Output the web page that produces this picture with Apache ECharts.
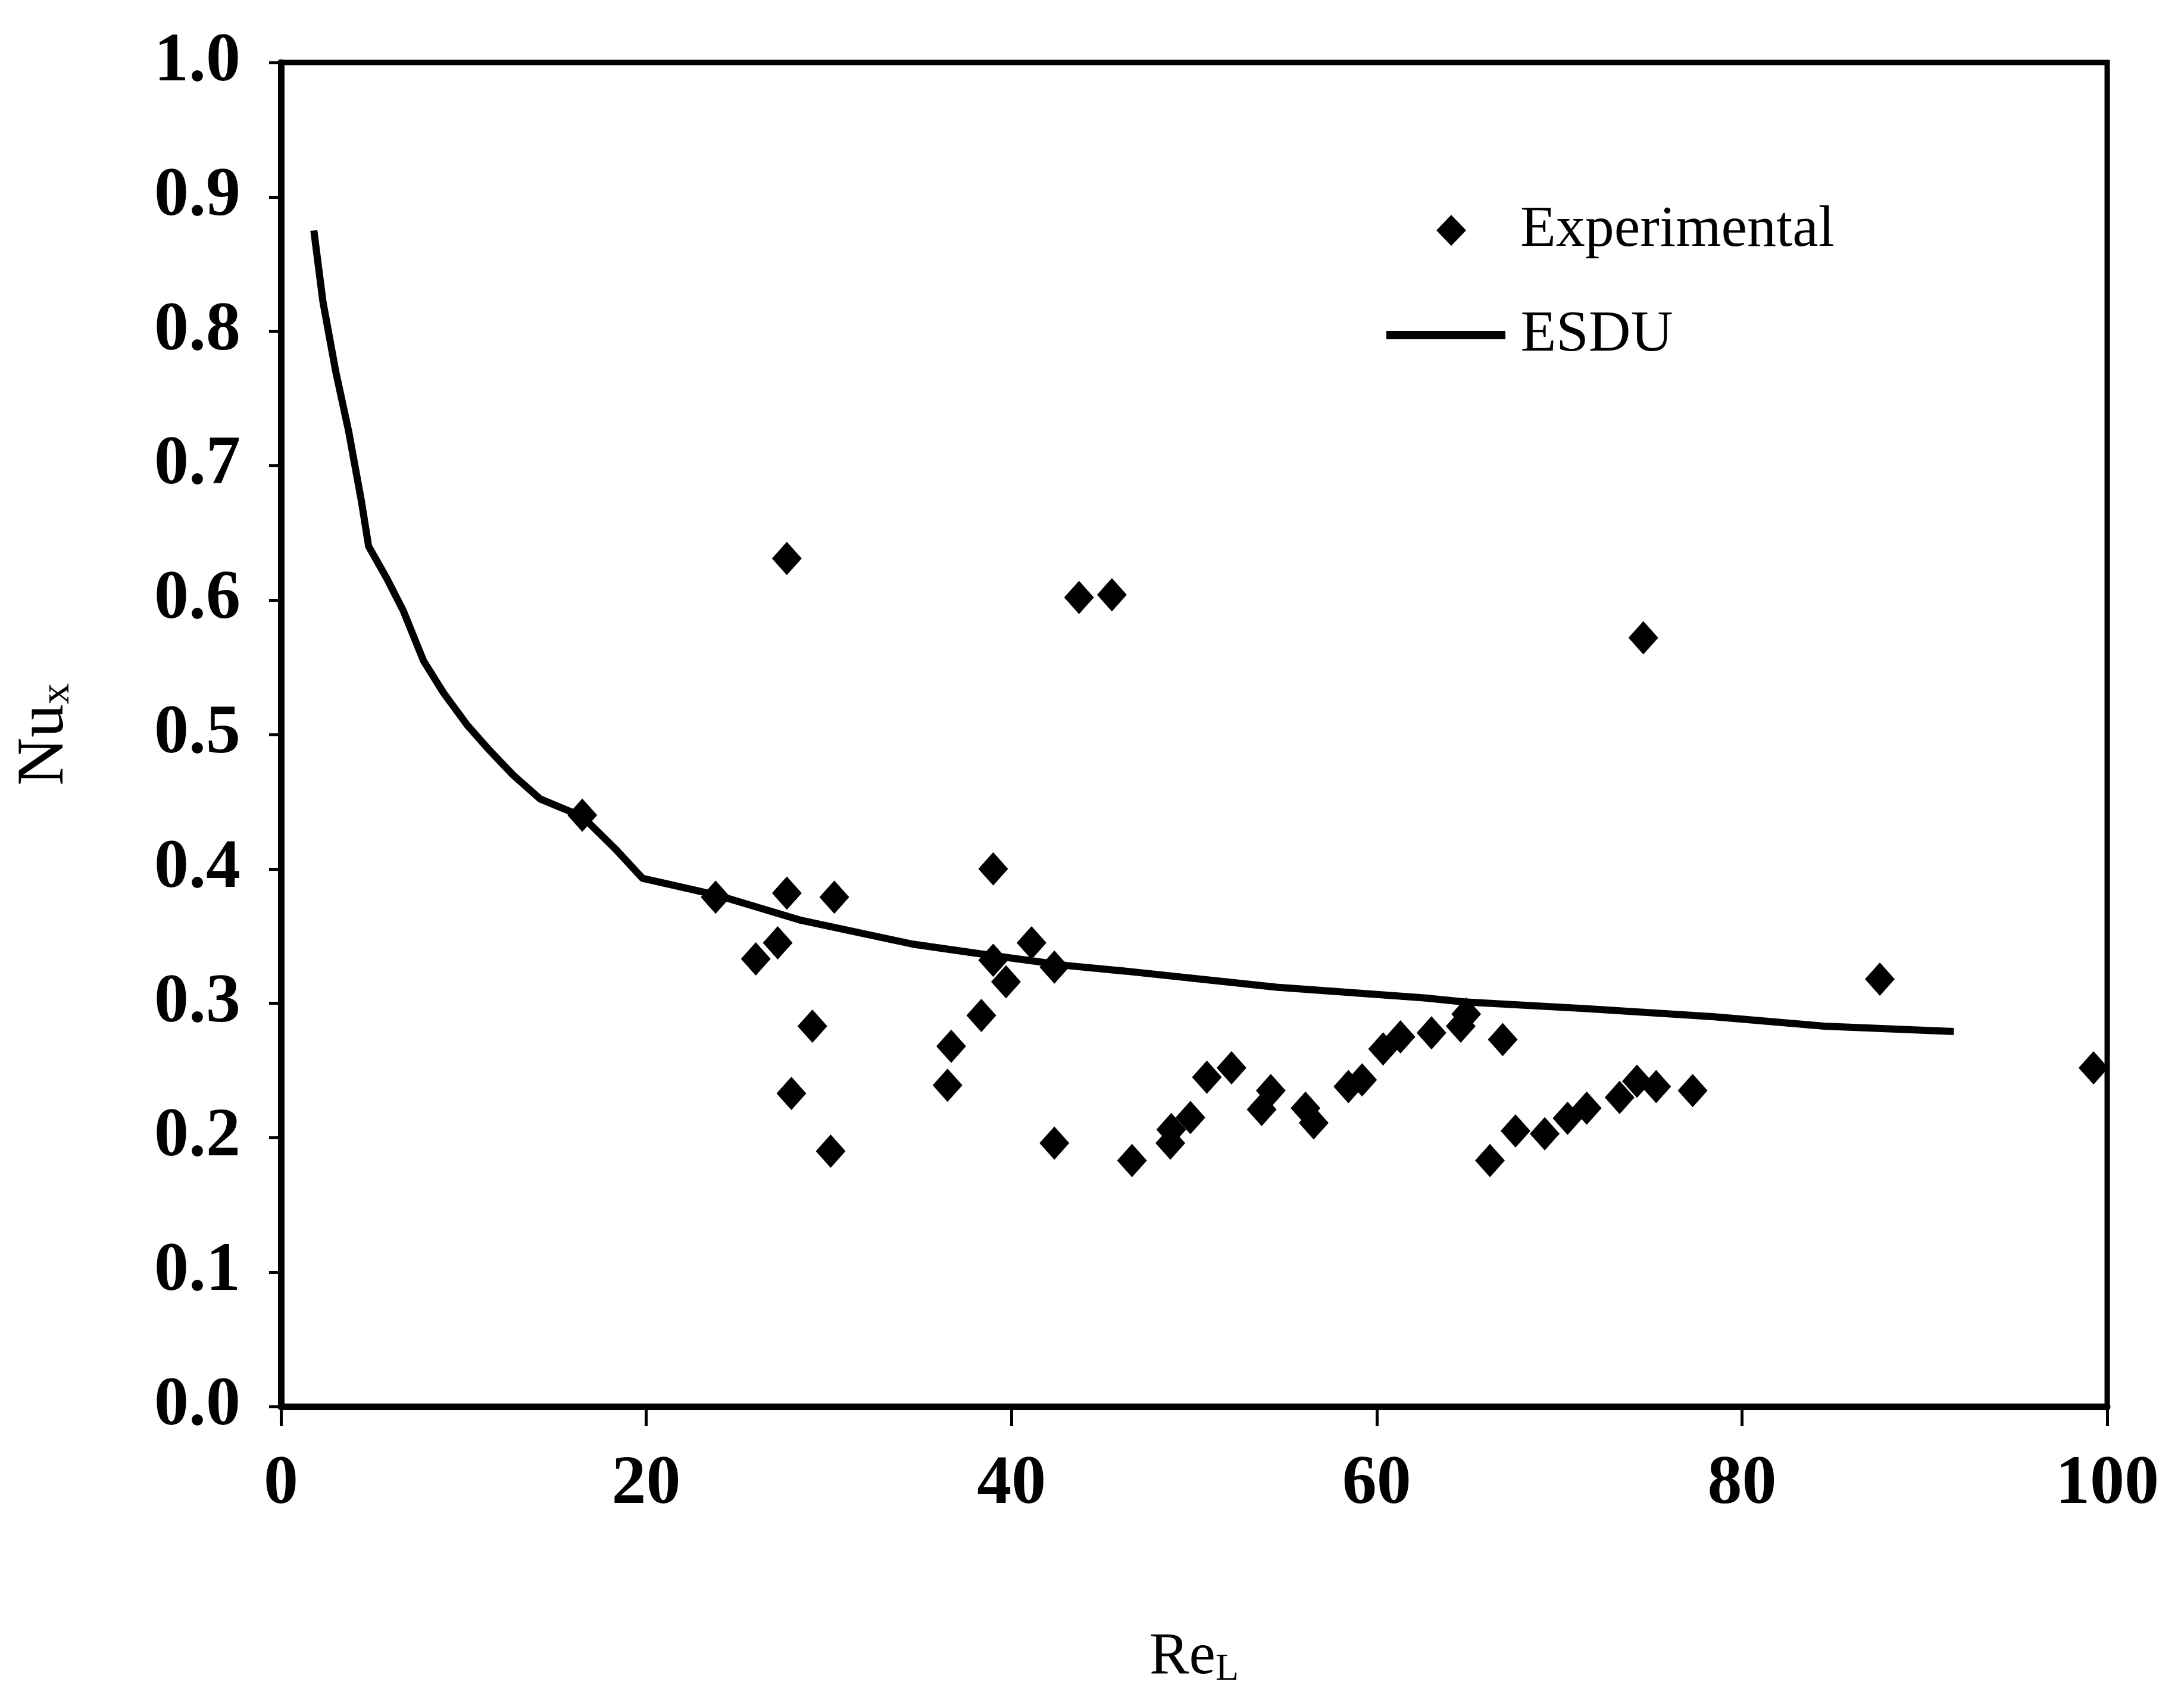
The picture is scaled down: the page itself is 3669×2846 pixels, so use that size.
<!DOCTYPE html>
<html><head><meta charset="utf-8">
<script src="https://cdn.jsdelivr.net/npm/echarts@6/dist/echarts.min.js"></script>
<style>html,body{margin:0;padding:0;background:#fff}#c{width:3669px;height:2846px}</style>
</head><body><div id="c"></div>
<script>
// Experimental data (Re_L, Nu_x)
const expX = [16.5, 23.8, 26.0, 27.2, 27.7, 27.7, 27.95, 29.1, 30.1, 30.3,
  36.5, 36.7, 38.35, 39.0, 39.0, 39.7, 41.1, 42.35, 42.35, 43.7,
  45.5, 46.6, 48.7, 48.75, 49.8, 50.7, 52.05, 53.7, 54.2, 56.1,
  56.55, 58.45, 59.2, 60.35, 61.3, 63.0, 64.6, 64.9, 66.9, 66.2,
  67.6, 69.2, 70.45, 71.5, 73.3, 74.25, 75.3, 77.3, 74.6, 87.55, 99.25];
const expY = [0.440, 0.379, 0.333, 0.345, 0.382, 0.631, 0.233, 0.283, 0.190, 0.379,
  0.239, 0.268, 0.291, 0.400, 0.332, 0.316, 0.345, 0.327, 0.196, 0.602,
  0.604, 0.183, 0.196, 0.206, 0.215, 0.245, 0.252, 0.221, 0.235, 0.222,
  0.211, 0.238, 0.243, 0.266, 0.275, 0.278, 0.283, 0.292, 0.273, 0.183,
  0.205, 0.203, 0.2145, 0.222, 0.230, 0.242, 0.238, 0.235, 0.572, 0.318, 0.252];
// ESDU correlation curve
const esduX = [1.8, 2.3, 3.0, 3.7, 4.4, 4.8, 5.8, 6.7, 7.8, 8.9, 10.2, 11.3, 12.7, 14.2, 16.5,
  18.3, 19.8, 22.4, 24.0, 28.4, 34.6, 38.7, 43.1, 46.2, 54.5, 62.6, 64.8, 71.5, 78.5, 84.5, 91.6];
const esduY = [0.875, 0.822, 0.770, 0.726, 0.674, 0.640, 0.616, 0.592, 0.555, 0.531, 0.507, 0.490, 0.470, 0.452, 0.439,
  0.415, 0.393, 0.385, 0.380, 0.362, 0.344, 0.336, 0.328, 0.324, 0.312, 0.304, 0.301, 0.296, 0.290, 0.283, 0.279];
const xTickLabels = ['0', '20', '40', '60', '80', '100'];
const yTickLabels = ['0.0', '0.1', '0.2', '0.3', '0.4', '0.5', '0.6', '0.7', '0.8', '0.9', '1.0'];

const FONT = '"Liberation Serif", "Times New Roman", serif';
const chart = echarts.init(document.getElementById('c'), null, {renderer: 'canvas'});
const expData = expX.map((x, i) => [x, expY[i]]);
const esduData = esduX.map((x, i) => [x, esduY[i]]);
const legendText = {fontFamily: FONT, fontSize: 98, color: '#000'};

chart.setOption({
  backgroundColor: '#ffffff',
  animation: false,
  grid: {left: 472, top: 105, width: 3068, height: 2258, show: true,
    borderColor: '#000', borderWidth: 9, backgroundColor: 'transparent'},
  legend: [
    {
      orient: 'vertical', left: 2408, top: 333, itemWidth: 50, itemHeight: 52,
      textStyle: Object.assign({padding: [0, 0, 0, 86]}, legendText),
      itemStyle: {color: '#000'},
      data: [{name: 'Experimental', icon: 'diamond'}]
    },
    {
      orient: 'vertical', left: 2324, top: 509, itemWidth: 203, itemHeight: 14,
      textStyle: Object.assign({padding: [0, 0, 0, 19]}, legendText),
      itemStyle: {color: '#000'},
      data: [{name: 'ESDU', icon: 'path://M0,0 L200,0 L200,14 L0,14 Z'}]
    }
  ],
  xAxis: {
    type: 'value', min: 0, max: 100, interval: 20,
    name: '{a|Re}{b|L}', nameLocation: 'middle', nameGap: 370,
    nameTextStyle: {rich: {
      a: {fontFamily: FONT, fontSize: 100, color: '#000'},
      b: {fontFamily: FONT, fontSize: 64, color: '#000', verticalAlign: 'bottom', padding: [40, 0, 0, 0]}
    }},
    axisLine: {show: true, lineStyle: {color: '#000', width: 11}},
    axisTick: {show: true, length: 33, lineStyle: {color: '#000', width: 5}},
    splitLine: {show: false},
    axisLabel: {margin: 74, fontFamily: FONT, fontSize: 116, fontWeight: 'bold', color: '#000',
      formatter: (v) => xTickLabels[Math.round(v / 20)]}
  },
  yAxis: {
    type: 'value', min: 0, max: 1, interval: 0.1,
    name: '{a|Nu}{b|x}', nameLocation: 'middle', nameGap: 340, nameRotate: 90,
    nameTextStyle: {rich: {
      a: {fontFamily: FONT, fontSize: 112, color: '#000'},
      b: {fontFamily: FONT, fontSize: 70, color: '#000', verticalAlign: 'bottom', padding: [40, 0, 0, 0]}
    }},
    axisLine: {show: true, lineStyle: {color: '#000', width: 11}},
    axisTick: {show: true, length: 20, lineStyle: {color: '#000', width: 5}},
    splitLine: {show: false},
    axisLabel: {margin: 68, fontFamily: FONT, fontSize: 116, fontWeight: 'bold', color: '#000',
      formatter: (v) => yTickLabels[Math.round(v * 10)]}
  },
  series: [
    {name: 'Experimental', type: 'scatter', data: expData, symbol: 'diamond',
      symbolSize: [50, 56], itemStyle: {color: '#000', opacity: 1}, z: 3},
    {name: 'ESDU', type: 'line', data: esduData, showSymbol: false, symbol: 'none',
      smooth: false, lineStyle: {color: '#000', width: 12}, itemStyle: {color: '#000'}, z: 2}
  ]
});
</script>
</body></html>
